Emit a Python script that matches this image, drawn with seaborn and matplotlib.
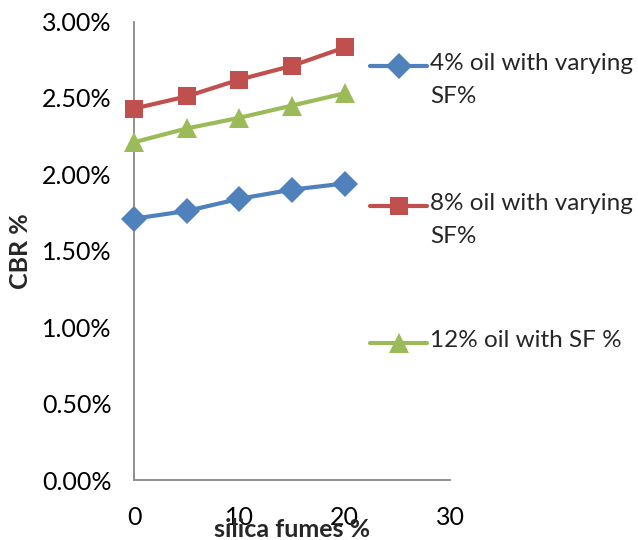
import numpy as np
import pandas as pd
import matplotlib
matplotlib.use("Agg")
import matplotlib.pyplot as plt
import seaborn as sns
from matplotlib.lines import Line2D
from matplotlib.ticker import FuncFormatter

# values (CBR in %)
silica_fume = [0, 5, 10, 15, 20]
cbr_4_oil = [1.71, 1.76, 1.84, 1.90, 1.94]
cbr_8_oil = [2.43, 2.51, 2.62, 2.71, 2.83]
cbr_12_oil = [2.21, 2.30, 2.37, 2.45, 2.53]

series_names = ["4% oil with varying\nSF%", "8% oil with varying\nSF%", "12% oil with SF %"]
colors = ["#4F81BD", "#C0504D", "#9BBB59"]
markers = ["D", "s", "^"]
marker_sizes = [13.5, 13.5, 15]
x_ticks = [0, 10, 20, 30]
y_ticks = [0, 0.5, 1.0, 1.5, 2.0, 2.5, 3.0]

# long format table for seaborn
df = pd.DataFrame({
    "sf": silica_fume * 3,
    "cbr": cbr_4_oil + cbr_8_oil + cbr_12_oil,
    "series": np.repeat(series_names, len(silica_fume)),
})

sns.set_style("white")
plt.rcParams["font.family"] = ["Lato", "DejaVu Sans"]
fs = 18

fig = plt.figure(figsize=(6.38, 5.4), dpi=100)
ax = fig.add_axes([134 / 638, 1 - 480 / 540, 316 / 638, 458.5 / 540])

sns.lineplot(data=df, x="sf", y="cbr", hue="series", style="series",
             hue_order=series_names, style_order=series_names,
             palette=dict(zip(series_names, colors)),
             markers=dict(zip(series_names, markers)), dashes=False,
             linewidth=3, markeredgewidth=0, legend=False, ax=ax)

for line, ms in zip(ax.lines, marker_sizes):
    line.set_markersize(ms)
    line.set_clip_on(False)
    line.set_zorder(3)

ax.set_xlim(0, 30)
ax.set_ylim(0, 3.0)
ax.set_xticks(x_ticks)
ax.set_yticks(y_ticks)
ax.yaxis.set_major_formatter(FuncFormatter(lambda v, p: f"{v:.2f}%"))
ax.tick_params(axis="both", length=0, labelsize=fs, colors="black")
ax.tick_params(axis="y", pad=16)
ax.tick_params(axis="x", pad=19)

for side in ["top", "right"]:
    ax.spines[side].set_visible(False)
for side in ["left", "bottom"]:
    ax.spines[side].set_color("#888888")
    ax.spines[side].set_linewidth(1.3)

ax.set_xlabel("silica fumes %", fontsize=fs, fontweight="bold", labelpad=-8)
ax.set_ylabel("CBR %", fontsize=fs, fontweight="bold", labelpad=7)

# legend drawn by hand so the handle sits on the first text line
legend_y = [66, 206, 343]
lfs = 17.5
for name, c, m, ms, y in zip(series_names, colors, markers, marker_sizes, legend_y):
    yf = 1 - y / 540
    fig.add_artist(Line2D([370 / 638, 427 / 638], [yf, yf], color=c, lw=3,
                          solid_capstyle="round", transform=fig.transFigure))
    fig.add_artist(Line2D([398.5 / 638], [yf], marker=m, color=c, ms=ms,
                          markeredgewidth=0, transform=fig.transFigure))
    fig.text(430 / 638, 1 - (y - 13) / 540, name, fontsize=lfs, va="top",
             ha="left", linespacing=1.7)

fig.savefig("out.png", dpi=100)
